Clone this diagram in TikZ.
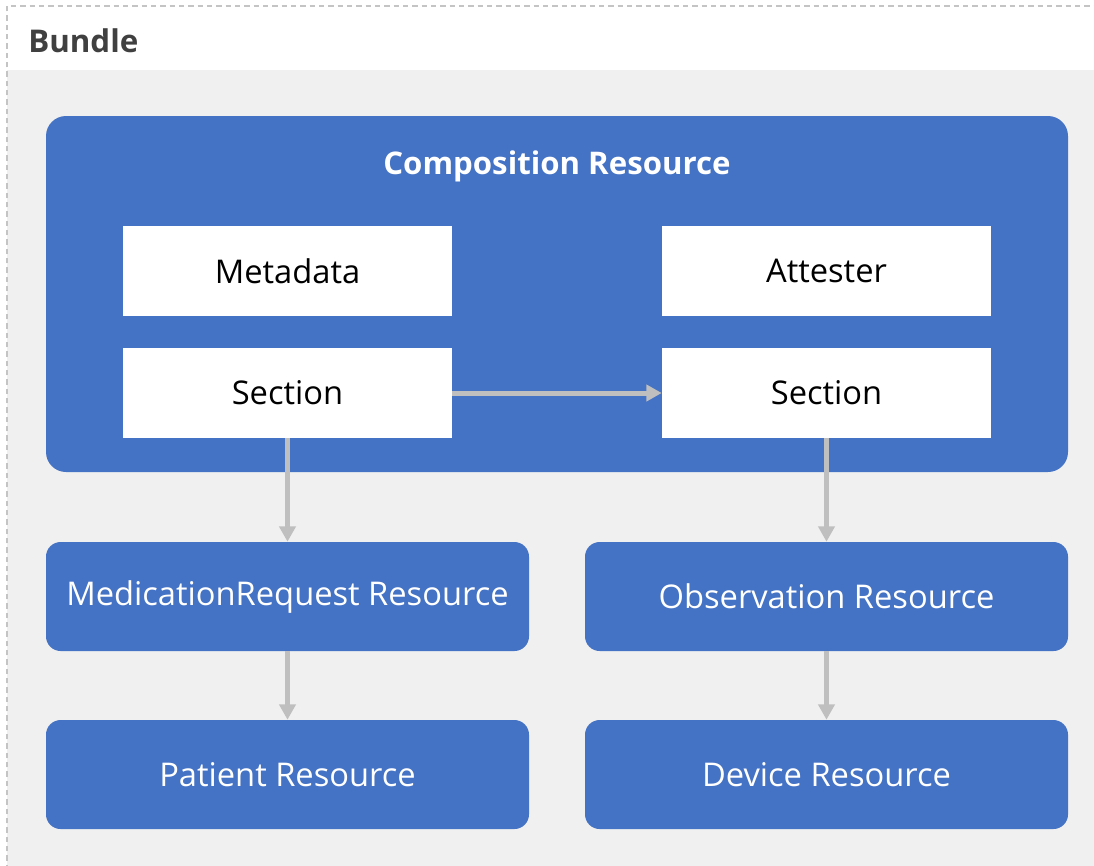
\documentclass[tikz,border=0pt]{standalone}
\usepackage{fontspec}
\setmainfont{Open Sans}
\usetikzlibrary{arrows.meta}
\definecolor{resblue}{HTML}{4472C4}
\definecolor{linkgray}{HTML}{BFBFBF}
\definecolor{bundlebg}{HTML}{F0F0F0}
\definecolor{framegray}{HTML}{C4C4C4}
\definecolor{headtext}{HTML}{404040}
\tikzset{
  resource/.style={fill=resblue,rounded corners=11pt,text=white,
    minimum width=362.25pt,minimum height=81.75pt,
    font=\fontsize{24.5}{28}\selectfont},
  part/.style={fill=white,minimum width=246.75pt,minimum height=67.5pt,
    font=\fontsize{24.5}{28}\selectfont},
  link/.style={draw=linkgray,line width=3.75pt,
    -{Triangle[length=11.5pt,width=12pt]}}
}
\begin{document}
\begin{tikzpicture}[x=0.75pt,y=-0.75pt]
  \useasboundingbox (0,0) rectangle (1094,865);
  \clip (0,0) rectangle (1094,865);
  % Bundle frame
  \fill[bundlebg] (7,70) rectangle (1100,870);
  \fill[white] (7,6) rectangle (1100,70);
  \draw[framegray,line width=0.9pt,dash pattern=on 4pt off 3pt] (7,870) -- (7,6) -- (1100,6);
  \node[anchor=base west,inner sep=0pt,text=headtext,font=\fontsize{23.5}{28}\selectfont\bfseries] (bundle) at (28,52) {Bundle};

  % Composition resource with its parts
  \node[fill=resblue,rounded corners=15pt,minimum width=766.5pt,minimum height=267pt] (comp) at (557,294) {};
  \node[text=white,font=\fontsize{23.4}{28}\selectfont\bfseries] (comptitle) at (557,166) {Composition Resource};
  \foreach \name/\x/\y/\txt in
  {
    meta/287.5/271/Metadata,
    attest/826.5/271/Attester,
    secl/287.5/393/Section,
    secr/826.5/393/Section
  }
  {
    \node[part] (\name) at (\x,\y) {\txt};
  };

  % referenced resources
  \foreach \name/\x/\y/\txt in
  {
    medreq/287.5/596.5/MedicationRequest Resource,
    obs/826.5/596.5/Observation Resource,
    patient/287.5/774.5/Patient Resource,
    device/826.5/774.5/Device Resource
  }
  {
    \node[resource] (\name) at (\x,\y) {\txt};
  };

  % references
  \draw[link] (secl) -- (secr);
  \draw[link] (secl) -- (medreq);
  \draw[link] (secr) -- (obs);
  \draw[link] (medreq) -- (patient);
  \draw[link] (obs) -- (device);
\end{tikzpicture}
\end{document}
